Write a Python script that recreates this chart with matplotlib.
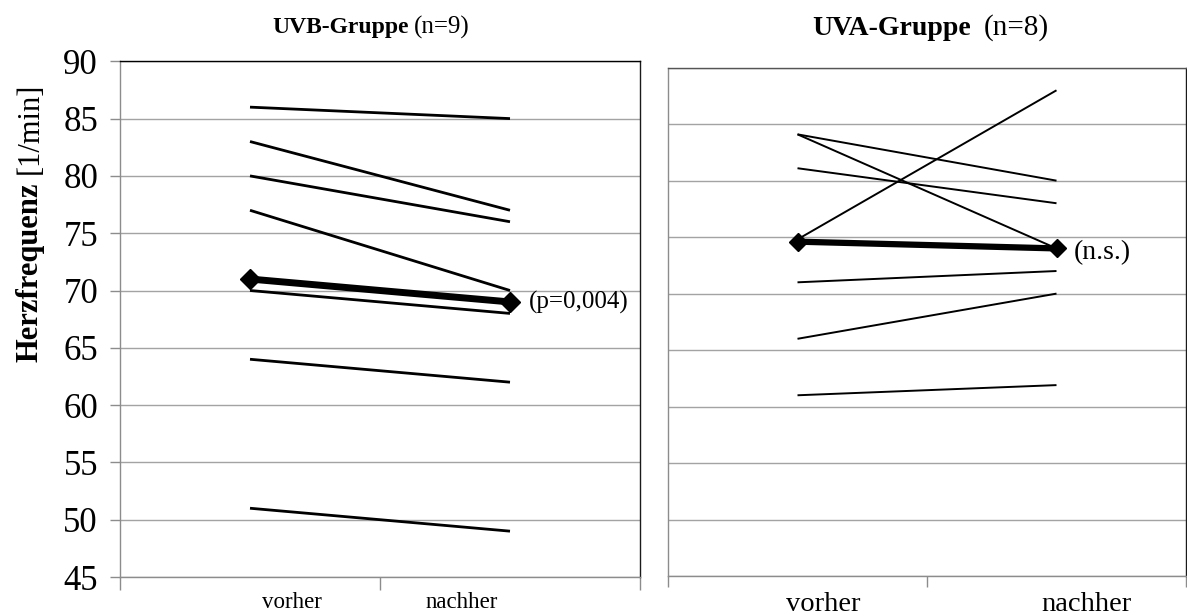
import matplotlib
matplotlib.use("Agg")
import matplotlib.pyplot as plt
from matplotlib.transforms import blended_transform_factory, ScaledTranslation

plt.rcParams["font.family"] = ["Liberation Serif", "DejaVu Serif"]

# ---- data -------------------------------------------------------------
categories = ["vorher", "nachher"]

uvb_vorher = [86, 83, 80, 77, 70, 64, 51]
uvb_nachher = [85, 77, 76, 70, 68, 62, 49]
uvb_mean = [71, 69]

uva_vorher = [84.1, 84.1, 81.1, 74.8, 71.0, 66.0, 61.0]
uva_nachher = [80.0, 74.0, 78.0, 88.0, 72.0, 70.0, 61.9]
uva_mean = [74.6, 74.0]

y_ticks = [45, 50, 55, 60, 65, 70, 75, 80, 85, 90]

# ---- layout helpers -----------------------------------------------------
W, H = 1187, 616
fig = plt.figure(figsize=(W / 100, H / 100), dpi=100)


def px_box(left, top, right, bottom):
    return [left / W, 1 - bottom / H, (right - left) / W, (bottom - top) / H]


def px_shift(dx, dy=0):
    return ScaledTranslation(dx / 100, dy / 100, fig.dpi_scale_trans)


GRID = "#a3a3a3"
SPINE = "#8c8c8c"


def style_axes(ax, tick_len, top_col, right_col):
    ax.set_xlim(-0.5, 1.5)
    ax.set_ylim(45, 90)
    ax.set_yticks(y_ticks)
    ax.yaxis.grid(True, color=GRID, linewidth=1.0)
    ax.set_axisbelow(True)
    ax.set_xticks([])
    ax.set_xticks([-0.5, 0.5, 1.5], minor=True)
    ax.tick_params(axis="x", which="minor", length=tick_len, width=1.0,
                   color=SPINE, labelbottom=False)
    ax.spines["left"].set_color(SPINE)
    ax.spines["bottom"].set_color(SPINE)
    ax.spines["top"].set_color(top_col)
    ax.spines["right"].set_color(right_col)
    for s in ax.spines.values():
        s.set_linewidth(1.0)


# ---- UVB panel ------------------------------------------------------------
ax1 = fig.add_axes(px_box(120, 61.3, 640, 577))
style_axes(ax1, 9.4, "#000000", "#1a1a1a")
ax1.tick_params(axis="y", length=7.2, width=1.0, color=SPINE,
                labelsize=25, pad=8.6)

xs = [0, 1]
for v0, v1 in zip(uvb_vorher, uvb_nachher):
    ax1.plot(xs, [v0, v1], color="black", linewidth=2.0, solid_capstyle="butt")
ax1.plot(xs, uvb_mean, color="black", linewidth=5.0, marker="D",
         markersize=10.5, markeredgewidth=1.0, zorder=5)
ax1.annotate("(p=0,004)", xy=(1, uvb_mean[1]), xytext=(19, 0),
             textcoords="offset pixels", ha="left", va="center", fontsize=18)

# ---- UVA panel ------------------------------------------------------------
ax2 = fig.add_axes(px_box(668, 67.7, 1186, 576))
style_axes(ax2, 7.9, "#555555", "#1a1a1a")
ax2.tick_params(axis="y", length=0, labelleft=False)

for v0, v1 in zip(uva_vorher, uva_nachher):
    ax2.plot(xs, [v0, v1], color="black", linewidth=1.4, solid_capstyle="butt")
ax2.plot(xs, uva_mean, color="black", linewidth=4.5, marker="D",
         markersize=9.5, markeredgewidth=1.0, zorder=5)
ax2.annotate("(n.s.)", xy=(1, uva_mean[1]), xytext=(17.5, -4),
             textcoords="offset pixels", ha="left", va="center", fontsize=20)

# ---- category labels under each panel --------------------------------------
left_trans = blended_transform_factory(ax1.transData, fig.transFigure)
for x, name, dx in zip(xs, categories, [42, -48.5]):
    fig.text(x, 8 / H, name, transform=left_trans + px_shift(dx),
             ha="center", va="baseline", fontsize=16.5)

right_trans = blended_transform_factory(ax2.transData, fig.transFigure)
for x, name, dx in zip(xs, categories, [26, 29.5]):
    fig.text(x, 5 / H, name, transform=right_trans + px_shift(dx),
             ha="center", va="baseline", fontsize=20.5)

# ---- titles ---------------------------------------------------------------
fig.text(409 / W, 1 - 33.5 / H, "UVB-Gruppe", ha="right", va="baseline",
         fontsize=17, fontweight="bold")
fig.text(414 / W, 1 - 33.5 / H, "(n=9)", ha="left", va="baseline", fontsize=18)

fig.text(971 / W, 1 - 35 / H, "UVA-Gruppe", ha="right", va="baseline",
         fontsize=20, fontweight="bold")
fig.text(984 / W, 1 - 35 / H, "(n=8)", ha="left", va="baseline", fontsize=21)

# ---- y axis title -----------------------------------------------------------
fig.text(38 / W, (H - 362) / H, "Herzfrequenz", rotation=90,
         rotation_mode="anchor", ha="left", va="baseline",
         fontsize=22, fontweight="bold")
fig.text(38 / W, (H - 83) / H, "[1/min]", rotation=90,
         rotation_mode="anchor", ha="right", va="baseline", fontsize=22)

fig.savefig("out.png", dpi=100)
